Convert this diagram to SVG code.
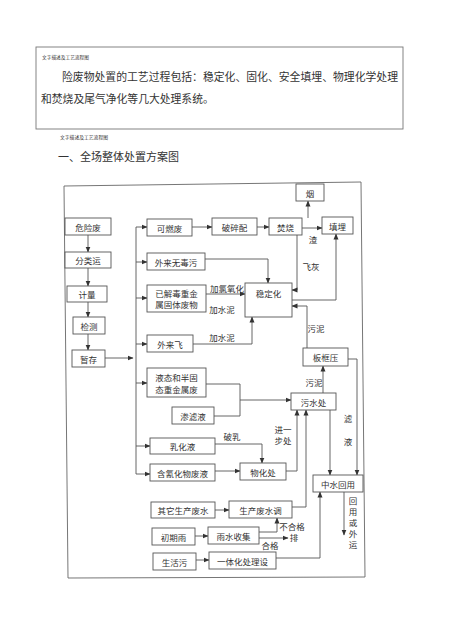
<svg xmlns="http://www.w3.org/2000/svg" width="454" height="643" viewBox="0 0 454 643">
<defs>
<marker id="ah" markerUnits="userSpaceOnUse" markerWidth="6" markerHeight="6" refX="5.5" refY="3" orient="auto">
<path d="M0,0.5 L6,3 L0,5.5 z" fill="#333"/>
</marker>
</defs>
<style>
.box{fill:#fff;stroke:#555;stroke-width:0.9}
.t{font-family:"Noto Sans CJK SC","Noto Sans",sans-serif;font-size:8.5px;fill:#333;text-anchor:middle;dominant-baseline:central}
.h{font-family:"Noto Sans CJK SC","Noto Sans",sans-serif;fill:#333}
.ln{fill:none;stroke:#555;stroke-width:0.9}
.a{marker-end:url(#ah)}
</style>
<rect width="454" height="643" fill="#fff"/>
<g id="header">
<rect x="36" y="47" width="367" height="82" fill="none" stroke="#777" stroke-width="0.9"/>
<text class="h" x="42" y="59" font-size="4.7">文字描述及工艺流程图</text>
<text class="h" x="62" y="81" font-size="10.8" textLength="336" lengthAdjust="spacingAndGlyphs">险废物处置的工艺过程包括：稳定化、固化、安全填埋、物理化学处理</text>
<text class="h" x="41" y="103" font-size="10.8">和焚烧及尾气净化等几大处理系统。</text>
<text class="h" x="60" y="139" font-size="4.8">文字描述及工艺流程图</text>
<text class="h" x="58" y="161" font-size="11">一、全场整体处置方案图</text>
</g>
<g id="frame">
<polygon points="64,186 361,182 365,577 68,578" fill="none" stroke="#666" stroke-width="0.9"/>
</g>
<g id="connectors">
<path class="ln a" d="M88,235 V252"/>
<path class="ln a" d="M88,268 V286"/>
<path class="ln a" d="M88,302 V317"/>
<path class="ln a" d="M88,334 V350"/>
<path class="ln a" d="M105,358 H133"/>
<path class="ln" d="M136,227 V474"/>
<path class="ln a" d="M136,227 H147"/>
<path class="ln a" d="M136,262 H147"/>
<path class="ln a" d="M136,298 H147"/>
<path class="ln a" d="M136,344 H147"/>
<path class="ln a" d="M136,383 H147"/>
<path class="ln a" d="M136,446 H150"/>
<path class="ln a" d="M136,474 H150"/>
<path class="ln a" d="M192,227 H212"/>
<path class="ln a" d="M257,227 H269"/>
<path class="ln a" d="M308,218 V201"/>
<path class="ln a" d="M302,228 H322"/>
<path class="ln a" d="M297,235 V290 H292"/>
<path class="ln a" d="M205,259 H268 V283"/>
<path class="ln a" d="M206,294 H245"/>
<path class="ln a" d="M193,344 H252 V317"/>
<path class="ln a" d="M292,300 H336 V234"/>
<path class="ln a" d="M307,348 V306 H292"/>
<path class="ln a" d="M348,359 H357 V475"/>
<path class="ln a" d="M323,393 V366"/>
<path class="ln a" d="M330,410 V475"/>
<path class="ln" d="M206,384 H240 V416 H214"/>
<path class="ln a" d="M240,400 H291"/>
<path class="ln a" d="M215,444 H262 V463"/>
<path class="ln a" d="M215,471 H240"/>
<path class="ln a" d="M286,471 H297 V410"/>
<path class="ln a" d="M292,507 H306 V410"/>
<path class="ln a" d="M215,510 H229"/>
<path class="ln a" d="M195,536 H208"/>
<path class="ln a" d="M259,532 H277 V518"/>
<path class="ln a" d="M259,538 H288"/>
<path class="ln a" d="M196,560 H209"/>
<path class="ln a" d="M276,558 H320 V492"/>
<path class="ln a" d="M344,492 V535"/>
</g>
<g id="labels">
<text class="t" x="313" y="239">渣</text>
<text class="t" x="311" y="266">飞灰</text>
<text class="t" x="227" y="288">加氯氧化</text>
<text class="t" x="222" y="309">加水泥</text>
<text class="t" x="222" y="337">加水泥</text>
<text class="t" x="316" y="328">污泥</text>
<text class="t" x="314" y="382">污泥</text>
<text class="t" x="348" y="418">滤</text>
<text class="t" x="348" y="441">液</text>
<text class="t" x="232" y="436">破乳</text>
<text class="t" x="283" y="429">进一</text>
<text class="t" x="283" y="440">步处</text>
<text class="t" x="292" y="526">不合格</text>
<text class="t" x="294" y="537">排</text>
<text class="t" x="270" y="545">合格</text>
<text class="t" x="353" y="500">回</text>
<text class="t" x="353" y="511">用</text>
<text class="t" x="353" y="522">或</text>
<text class="t" x="353" y="533">外</text>
<text class="t" x="353" y="544">运</text>
</g>
<g id="n1"><rect class="box" x="65" y="218" width="46" height="17"/><text class="t" x="88" y="226.5">危险废</text></g>
<g id="n2"><rect class="box" x="65" y="252" width="46" height="16"/><text class="t" x="88" y="260">分类运</text></g>
<g id="n3"><rect class="box" x="67" y="286" width="40" height="16"/><text class="t" x="87" y="294">计量</text></g>
<g id="n4"><rect class="box" x="73" y="317" width="32" height="17"/><text class="t" x="89" y="325.5">检测</text></g>
<g id="n5"><rect class="box" x="72" y="350" width="33" height="17"/><text class="t" x="88.5" y="358.5">暂存</text></g>
<g id="n6"><rect class="box" x="147" y="219" width="45" height="17"/><text class="t" x="169.5" y="227.5">可燃废</text></g>
<g id="n7"><rect class="box" x="147" y="253" width="58" height="17"/><text class="t" x="176" y="261.5">外来无毒污</text></g>
<g id="n8"><rect class="box" x="147" y="285" width="59" height="27"/><text class="t" x="176.5" y="293">已解毒重金</text><text class="t" x="176.5" y="304">属固体废物</text></g>
<g id="n9"><rect class="box" x="147" y="335" width="46" height="17"/><text class="t" x="170" y="343.5">外来飞</text></g>
<g id="n10"><rect class="box" x="147" y="368" width="59" height="29"/><text class="t" x="176.5" y="377">液态和半固</text><text class="t" x="176.5" y="389">态重金属废</text></g>
<g id="n11"><rect class="box" x="172" y="407" width="42" height="17"/><text class="t" x="193" y="415.5">渗滤液</text></g>
<g id="n12"><rect class="box" x="150" y="438" width="65" height="16"/><text class="t" x="182.5" y="446">乳化液</text></g>
<g id="n13"><rect class="box" x="150" y="464" width="65" height="17"/><text class="t" x="182.5" y="472.5">含氰化物废液</text></g>
<g id="n14"><rect class="box" x="212" y="218" width="45" height="17"/><text class="t" x="234.5" y="226.5">破碎配</text></g>
<g id="n15"><rect class="box" x="269" y="218" width="33" height="17"/><text class="t" x="285.5" y="226.5">焚烧</text></g>
<g id="n16"><rect class="box" x="296" y="184" width="28" height="17"/><text class="t" x="310" y="192.5">烟</text></g>
<g id="n17"><rect class="box" x="322" y="217" width="31" height="17"/><text class="t" x="337.5" y="225.5">填埋</text></g>
<g id="n18"><rect class="box" x="245" y="283" width="47" height="34"/><text class="t" x="268.5" y="293">稳定化</text></g>
<g id="n19"><rect class="box" x="303" y="348" width="45" height="18"/><text class="t" x="325.5" y="357">板框压</text></g>
<g id="n20"><rect class="box" x="291" y="393" width="45" height="17"/><text class="t" x="313.5" y="401.5">污水处</text></g>
<g id="n21"><rect class="box" x="240" y="463" width="46" height="17"/><text class="t" x="263" y="471.5">物化处</text></g>
<g id="n22"><rect class="box" x="313" y="475" width="50" height="17"/><text class="t" x="338" y="483.5">中水回用</text></g>
<g id="n23"><rect class="box" x="151" y="502" width="64" height="16"/><text class="t" x="183" y="510">其它生产废水</text></g>
<g id="n24"><rect class="box" x="229" y="501" width="63" height="17"/><text class="t" x="260.5" y="509.5">生产废水调</text></g>
<g id="n25"><rect class="box" x="152" y="528" width="43" height="17"/><text class="t" x="173.5" y="536.5">初期雨</text></g>
<g id="n26"><rect class="box" x="208" y="527" width="51" height="17"/><text class="t" x="233.5" y="535.5">雨水收集</text></g>
<g id="n27"><rect class="box" x="153" y="553" width="43" height="17"/><text class="t" x="174.5" y="561.5">生活污</text></g>
<g id="n28"><rect class="box" x="209" y="552" width="67" height="17"/><text class="t" x="242.5" y="560.5">一体化处理设</text></g>
</svg>
